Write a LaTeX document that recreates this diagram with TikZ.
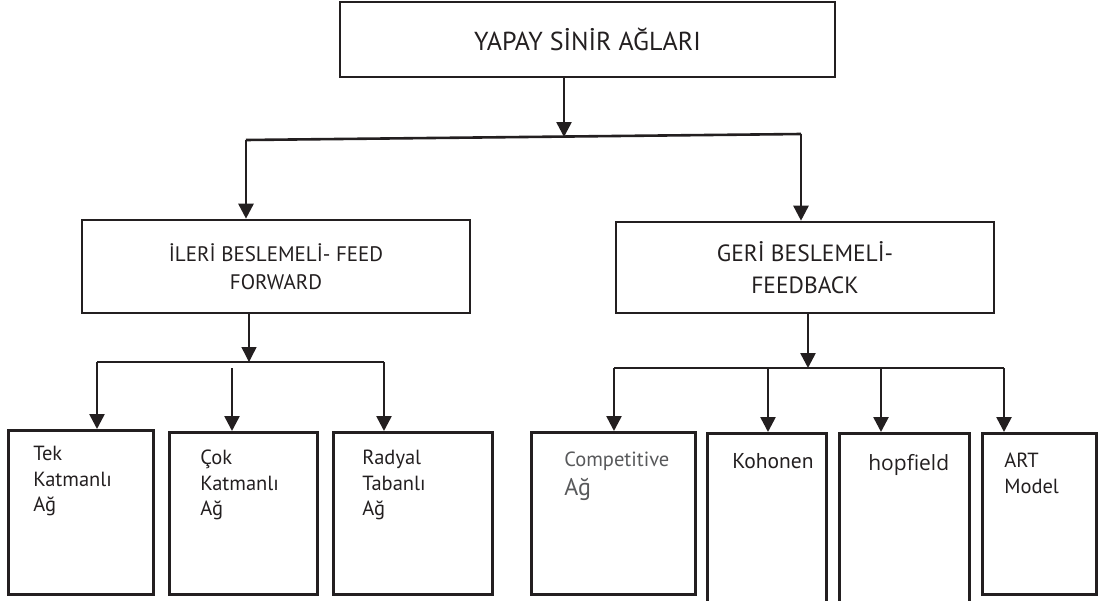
\documentclass[tikz,border=0pt]{standalone}
\usepackage{fontspec}
\setmainfont{PT Sans}
\newfontfamily\hopfont{Open Sans}
\usetikzlibrary{arrows.meta,positioning,calc}
\definecolor{ink}{HTML}{231F20}
\definecolor{greyink}{HTML}{58595B}

\begin{document}
\begin{tikzpicture}[x=1pt,y=-1pt,>={Triangle[length=15pt,width=15pt]},line width=2.6pt,draw=ink,color=ink,
    main node/.style={draw,line width=2.6pt,inner sep=0pt,align=center},
    leaf node/.style={draw,line width=2.6pt,inner sep=0pt,anchor=north west},
    leaf text/.style={anchor=north west,align=left,inner sep=0pt,font=\fontsize{20.5}{25.5}\selectfont}]

    \useasboundingbox (0,0) rectangle (1098,600);

    % root and the two families
    \node[main node,minimum width=495pt,minimum height=75pt,font=\fontsize{26}{30}\selectfont] (ysa) at (587.5,39.5) {YAPAY SİNİR AĞLARI};
    \node[main node,minimum width=388pt,minimum height=93pt,font=\fontsize{21}{28}\selectfont] (ileri) at (276,266.5) {İLERİ BESLEMELİ- FEED\\FORWARD};
    \node[main node,minimum width=378pt,minimum height=91pt,font=\fontsize{23.5}{32}\selectfont] (geri) at (805,267.5) {GERİ BESLEMELİ-\\FEEDBACK};

    % leaves
    \foreach \name/\x/\y/\w/\h in {tek/7/429/145/164, cok/168/431/148/162, radyal/332/431/159/162,
        comp/530/431/164/162, kohonen/706/432/119/180, hop/838/432/130/180, art/981/432/114/161}{
        \node[leaf node,minimum width=\w pt,minimum height=\h pt] (\name) at (\x,\y) {};
    }

    \node[leaf text] (tek text) at ($(tek.north west)+(25,16)$) {Tek\\Katmanlı\\Ağ};
    \node[leaf text] (cok text) at ($(cok.north west)+(31,18)$) {Çok\\Katmanlı\\Ağ};
    \node[leaf text] (radyal text) at ($(radyal.north west)+(29,18)$) {Radyal\\Tabanlı\\Ağ};
    \node[leaf text,text=greyink,font=\fontsize{20.5}{29}\selectfont] (comp text) at ($(comp.north west)+(33,20)$) {Competitive\\{\fontsize{24}{29}\selectfont Ağ}};
    \node[leaf text,font=\fontsize{21.5}{26}\selectfont] (kohonen text) at ($(kohonen.north west)+(25,20)$) {Kohonen};
    \node[leaf text,font=\hopfont\fontsize{21}{26}\selectfont] (hop text) at ($(hop.north west)+(29,21)$) {hopfield};
    \node[leaf text] (art text) at ($(art.north west)+(22,20)$) {ART\\Model};

    % first split
    \coordinate (bus top) at (564,137);
    \coordinate (bus top l) at (246,140);
    \coordinate (bus top r) at (801,134);
    \draw[->] (ysa.south -| bus top) -- (bus top);
    \draw (bus top l) -- (bus top r);
    \draw[->] (bus top l) -- (bus top l |- ileri.north);
    \draw[->] (bus top r) -- (bus top r |- geri.north);

    % feed forward branch
    \coordinate (bus left) at (249,362);
    \coordinate (bus left l) at (97,362);
    \coordinate (bus left r) at (384,362);
    \coordinate (cok in) at (232,368);
    \draw[->,line width=1.4pt] (ileri.south -| bus left) -- (bus left);
    \draw (bus left l) -- (bus left r);
    \draw[->] (bus left l) -- (bus left l |- tek.north);
    \draw[->] (cok in) -- (cok in |- cok.north);
    \draw[->] (bus left r) -- (bus left r |- radyal.north);

    % feedback branch
    \coordinate (bus right) at (808,368);
    \coordinate (bus right l) at (614,368);
    \coordinate (bus right r) at (1004,368);
    \draw[->] (geri.south -| bus right) -- (bus right);
    \draw (bus right l) -- (bus right r);
    \foreach \leaf/\x in {comp/614, kohonen/768, hop/881, art/1004}{
        \coordinate (\leaf in) at (\x,368);
        \draw[->] (\leaf in) -- (\leaf in |- \leaf.north);
    }

\end{tikzpicture}
\end{document}
